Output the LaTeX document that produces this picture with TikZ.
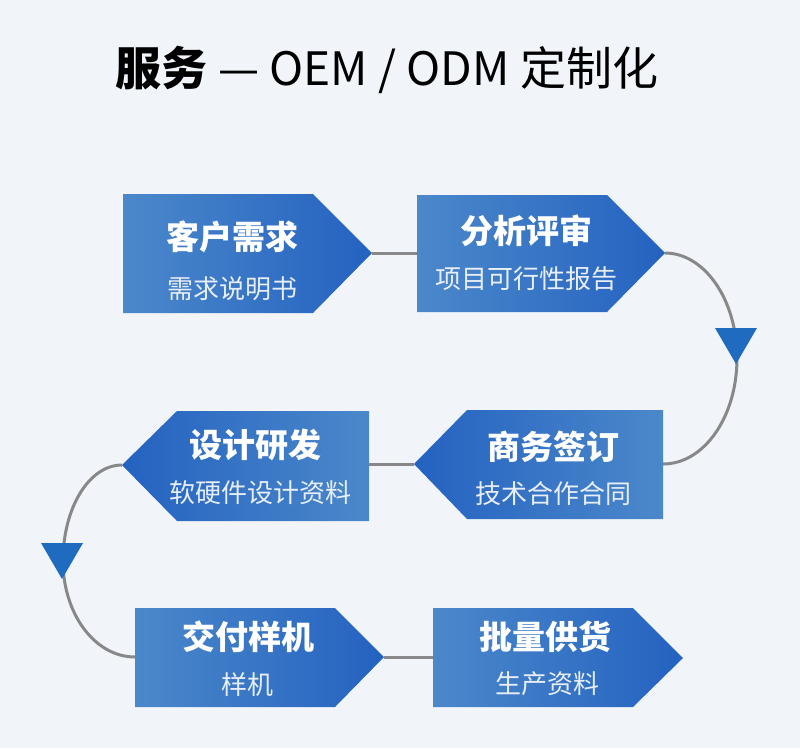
\documentclass[tikz,border=0pt]{standalone}
\usepackage{fontspec}
\setmainfont{Noto Sans CJK SC}
\begin{document}
\begin{tikzpicture}[x=1pt,y=-1pt,
  boxtitle/.style={text=white,font=\fontsize{33}{36}\selectfont\bfseries,inner sep=0pt},
  boxsub/.style={text=subtext,font=\fontsize{26}{29}\selectfont,inner sep=0pt},
  conn/.style={draw=connector,line width=3pt},
  marker/.style={fill=markblue},
  fwd/.style={left color=lightblue,right color=darkblue},
  bwd/.style={left color=darkblue,right color=lightblue}]
\definecolor{bg}{HTML}{F1F5FA}
\definecolor{lightblue}{HTML}{4B88CA}
\definecolor{darkblue}{HTML}{2462C1}
\definecolor{subtext}{HTML}{E8EEF7}
\definecolor{connector}{HTML}{888888}
\definecolor{markblue}{HTML}{1E6BC0}
\fill[bg] (0,0) rectangle (800,748);
\useasboundingbox (0,0) rectangle (800,748);

% title
\node[font=\fontsize{46}{50}\selectfont,inner sep=0pt] (title) at (387,70)
  {{\bfseries 服务} — OEM / ODM 定制化};

% endpoint coordinates
\coordinate (b1tip) at (372,253);
\coordinate (b2in) at (417,253);
\coordinate (b2tip) at (665,253);
\coordinate (b3out) at (663,464);
\coordinate (b3tip) at (414,464);
\coordinate (b4out) at (369,464);
\coordinate (b4tip) at (122,465);
\coordinate (b5in) at (135,657);
\coordinate (b5tip) at (384,657);
\coordinate (b6in) at (433,657);

% connectors (behind boxes)
\draw[conn] (b1tip) -- (b2in);
\draw[conn] (b4out) -- (b3tip);
\draw[conn] (b5tip) -- (b6in);
\draw[conn] (b2tip) .. controls (704,253) and (737,299) .. (737,358)
  .. controls (737,417) and (704,464) .. (b3out);
\draw[conn] (b4tip) .. controls (89,465) and (63,508) .. (63,561)
  .. controls (63,614) and (95,657) .. (b5in);

% direction markers
\fill[marker] (715,328) -- (757,328) -- (736,364) -- cycle;
\fill[marker] (41,543) -- (83,543) -- (62,579) -- cycle;

% boxes
\shade[fwd] (123,194) -- (313,194) -- (372,253) -- (313,313) -- (123,313) -- cycle;
\shade[fwd] (417,195) -- (607,195) -- (665,253) -- (607,312) -- (417,312) -- cycle;
\shade[bwd] (414,464) -- (467,410) -- (663,410) -- (663,519) -- (467,519) -- cycle;
\shade[bwd] (122,465) -- (177,411) -- (369,411) -- (369,521) -- (177,521) -- cycle;
\shade[fwd] (135,608) -- (335,608) -- (384,657) -- (335,707) -- (135,707) -- cycle;
\shade[fwd] (433,608) -- (633,608) -- (683,658) -- (633,707) -- (433,707) -- cycle;

% texts
\node[boxtitle] (t1) at (232,237) {客户需求};
\node[boxsub] (s1) at (232,289) {需求说明书};
\node[boxtitle] (t2) at (526,231) {分析评审};
\node[boxsub] (s2) at (526,279) {项目可行性报告};
\node[boxtitle] (t3) at (553,447) {商务签订};
\node[boxsub] (s3) at (553,494) {技术合作合同};
\node[boxtitle] (t4) at (255,445) {设计研发};
\node[boxsub] (s4) at (260,493) {软硬件设计资料};
\node[boxtitle] (t5) at (248,637) {交付样机};
\node[boxsub] (s5) at (247,685) {样机};
\node[boxtitle] (t6) at (545,637) {批量供货};
\node[boxsub] (s6) at (547,684) {生产资料};
\end{tikzpicture}
\end{document}
